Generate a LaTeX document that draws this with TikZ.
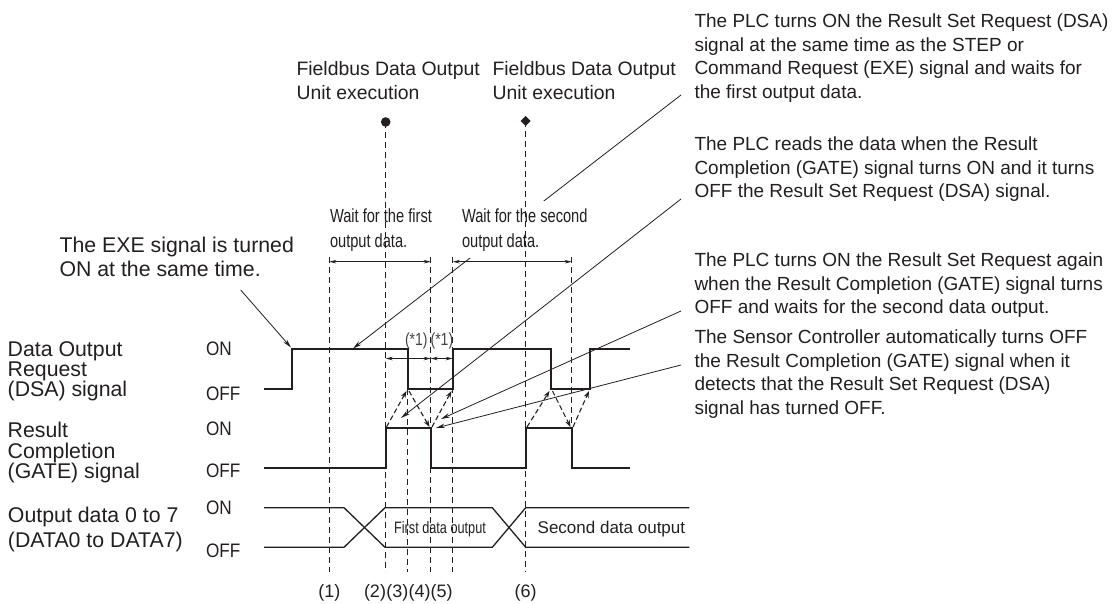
\documentclass[tikz,border=0pt]{standalone}
\usepackage{fontspec}
\setmainfont{Liberation Sans}
\newfontfamily\lblfont[FakeStretch=0.88]{Liberation Sans}
\newfontfamily\narrowfont[FakeStretch=0.77]{Liberation Sans}
\newfontfamily\starfont[FakeStretch=0.80]{Liberation Sans}
\usetikzlibrary{arrows.meta,shapes.geometric}
\definecolor{ink}{HTML}{231F20}
\definecolor{grayink}{HTML}{444444}
\lineskiplimit=-50pt
\begin{document}
\begin{tikzpicture}[x=1pt,y=-1pt,
  every node/.style={inner sep=0pt, outer sep=0pt, text=ink},
  sig/.style={draw=ink, line width=1.9pt, line join=miter},
  dat/.style={draw=ink, line width=1.3pt},
  guide/.style={draw=ink, line width=1.1pt, dash pattern=on 6pt off 4pt},
  cause/.style={draw=ink, line width=1.1pt, dash pattern=on 5pt off 3pt, -{Stealth[length=7pt,width=5pt]}},
  leader/.style={draw=ink, line width=0.8pt, -{Stealth[length=9pt,width=4.5pt]}},
  span/.style={draw=ink, line width=0.8pt, {Stealth[length=7pt,width=3.5pt]}-{Stealth[length=7pt,width=3.5pt]}},
  note/.style={font=\fontsize{19}{23.5}\selectfont, align=left, anchor=north west},
  head/.style={font=\fontsize{19.4}{24.5}\selectfont, align=left, anchor=north west},
  lab/.style={font=\fontsize{21.3}{20.2}\selectfont, align=left, anchor=north west},
  onoff/.style={font=\lblfont\fontsize{19.5}{20}\selectfont, anchor=base west},
  wait/.style={font=\narrowfont\fontsize{19}{25}\selectfont, align=left, anchor=north west},
  star/.style={font=\starfont\fontsize{17.5}{18}\selectfont, text=grayink, anchor=base},
  num/.style={font=\fontsize{18}{20}\selectfont},
]
\useasboundingbox (0,0) rectangle (1117,603);

% leader lines (drawn first, so the white label can mask one)
\coordinate (exeS) at (240.7,290);
\coordinate (exeT) at (291,347.5);
\coordinate (p1S) at (681,95);
\coordinate (p1T) at (353,348.5);
\coordinate (p2S) at (681,199);
\coordinate (p2T) at (401,418);
\coordinate (p3S) at (681,311);
\coordinate (p3T) at (441,419);
\coordinate (p4S) at (681,365);
\coordinate (p4T) at (436,428);
\draw[leader] (exeS) -- (exeT);
\draw[leader] (p1S) -- (p1T);
\draw[leader] (p2S) -- (p2T);
\draw[leader] (p3S) -- (p3T);
\draw[leader] (p4S) -- (p4T);

% wait labels
\node[wait] (w1) at (330,208.4) {Wait for the first\\output data.};
\node[wait, fill=white, inner xsep=2pt, inner ysep=7pt] (w2) at (460,201.4) {Wait for the second\\output data.};

% markers
\fill[ink] (385.7,122) circle (4.8) coordinate (dot);
\node[diamond, fill=ink, minimum size=10pt, inner sep=0pt] (dia) at (525.7,121) {};

% dashed guides
\draw[guide] (329.3,257) -- (329.3,572);
\draw[guide] (dot) -- (385.7,572);
\draw[guide] (407.7,389) -- (407.7,572);
\draw[guide] (430.7,257) -- (430.7,572);
\draw[guide] (452.7,257) -- (452.7,572);
\draw[guide] (dia.center) -- (525.7,572);
\draw[guide] (571.7,257) -- (571.7,428);

% span arrows
\draw[span] (329.3,261.7) -- (430.7,261.7);
\draw[span] (452.7,261.7) -- (571.7,261.7);
\draw[span] (385.7,358.5) -- (430.7,358.5);
\draw[span] (430.7,358.5) -- (452.7,358.5);
\node[star] (s1) at (416.3,345) {(*1)};
\node[star] (s2) at (441.9,345) {(*1)};

% signals
\draw[sig] (264,389) -| (292,349) -| (407.7,389) -| (452.7,349) -| (551,389) -| (590,349) -- (630,349);
\draw[sig] (264,468) -| (385.7,428) -| (430.7,468) -| (525.7,428) -| (571.7,468) -- (630,468);
\draw[dat] (264,507.7) -- (344,507.7) -- (385,547.3) -- (492.3,547.3) -- (525.7,507.7) -- (689.3,507.7);
\draw[dat] (264,547.3) -- (344,547.3) -- (385,507.7) -- (492.3,507.7) -- (525.7,547.3) -- (689.3,547.3);

% cause arrows
\draw[cause] (386.5,427) -- (406.5,391);
\draw[cause] (409,391) -- (429.5,427);
\draw[cause] (432,427) -- (451.5,391);
\draw[cause] (527,427) -- (549.5,391);
\draw[cause] (552.5,391) -- (570.5,427);
\draw[cause] (573,427) -- (589,391);

% data labels
\node[font=\narrowfont\fontsize{16.5}{18}\selectfont, anchor=base, text=ink] (d1) at (440,533) {First data output};
\node[font=\fontsize{17}{18}\selectfont, anchor=base west] (d2) at (537.7,533) {Second data output};

% headings
\node[head] (fb1) at (296.5,61) {Fieldbus Data Output\\Unit execution};
\node[head] (fb2) at (492.5,61) {Fieldbus Data Output\\Unit execution};

% notes
\node[note] (plc1) at (694.5,14) {The PLC turns ON the Result Set Request (DSA)\\signal at the same time as the STEP or\\Command Request (EXE) signal and waits for\\the first output data.};
\node[note] (plc2) at (694.5,137) {The PLC reads the data when the Result\\Completion (GATE) signal turns ON and it turns\\OFF the Result Set Request (DSA) signal.};
\node[note] (plc3) at (694.5,253) {The PLC turns ON the Result Set Request again\\when the Result Completion (GATE) signal turns\\OFF and waits for the second data output.};
\node[note] (plc4) at (694.5,330) {The Sensor Controller automatically turns OFF\\the Result Completion (GATE) signal when it\\detects that the Result Set Request (DSA)\\signal has turned OFF.};
\node[font=\fontsize{21.3}{24}\selectfont, align=left, anchor=north west] (exe) at (59.5,236.7) {The EXE signal is turned\\ON at the same time.};

% signal names
\node[lab] (ldsa) at (7.7,341.5) {Data Output\\Request\\(DSA) signal};
\node[lab] (lgate) at (7.7,422.5) {Result\\Completion\\(GATE) signal};
\node[lab, font=\fontsize{21.3}{25}\selectfont] (ldata) at (8,507.3) {Output data 0 to 7\\(DATA0 to DATA7)};
\node[onoff] (on1) at (206,355) {ON};
\node[onoff] (off1) at (206,400) {OFF};
\node[onoff] (on2) at (206,435) {ON};
\node[onoff] (off2) at (206,477) {OFF};
\node[onoff] (on3) at (206,514) {ON};
\node[onoff] (off3) at (206,557) {OFF};

% step numbers
\node[num, anchor=base] (n1) at (329.3,597) {(1)};
\node[num, anchor=base east] (n2) at (386,597) {(2)};
\node[num, anchor=base east] (n3) at (408.3,597) {(3)};
\node[num, anchor=base east] (n4) at (430.7,597) {(4)};
\node[num, anchor=base east] (n5) at (452.7,597) {(5)};
\node[num, anchor=base] (n6) at (525.7,597) {(6)};
\end{tikzpicture}
\end{document}
